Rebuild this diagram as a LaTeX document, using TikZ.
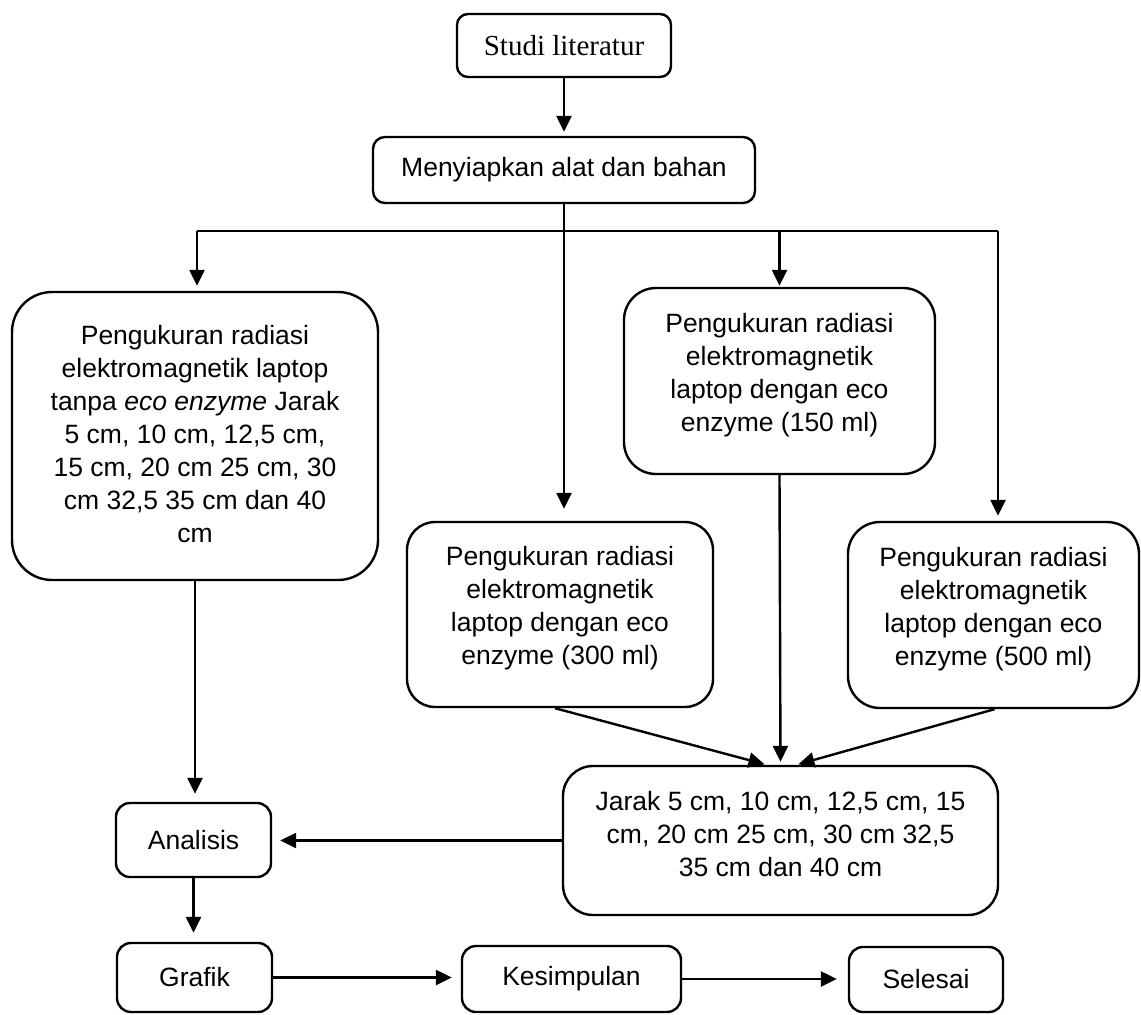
\documentclass[tikz,border=0pt]{standalone}
\usepackage{fontspec}
\setmainfont{Liberation Sans}
\newfontfamily\timesfont{Liberation Serif}
\usetikzlibrary{arrows.meta,calc}
\begin{document}
\begin{tikzpicture}[x=1pt,y=-1pt,
  box/.style={draw, line width=2.4pt, inner sep=0pt, align=center, font=\fontsize{26.5}{33}\selectfont},
  lbl/.style={align=center, inner sep=0pt, font=\fontsize{26.5}{33}\selectfont, yshift=#1},
  lbl/.default=6pt,
  conn/.style={line width=2.4pt, -{Triangle[length=16pt,width=15pt]}},
  plain/.style={line width=2.4pt}]
\useasboundingbox (0,0) rectangle (1141,1015);

\node[box, font=\timesfont\fontsize{29}{33}\selectfont, minimum width=214pt, minimum height=63pt, rounded corners=11pt] (studi) at (564,45.5) {Studi literatur};
\node[box, minimum width=382pt, minimum height=66pt, rounded corners=12pt] (prep) at (564,170) {Menyiapkan alat dan bahan};

\node[box, minimum width=366pt, minimum height=288pt, rounded corners=40pt,
  label={[lbl=2pt]center:{Pengukuran radiasi\\elektromagnetik laptop\\tanpa \textit{eco enzyme} Jarak\\5 cm, 10 cm, 12,5 cm,\\15 cm, 20 cm 25 cm, 30\\cm 32,5 35 cm dan 40\\cm}}] (tanpa) at (195,436) {};
\node[box, minimum width=311pt, minimum height=186pt, rounded corners=32pt,
  label={[lbl]center:{Pengukuran radiasi\\elektromagnetik\\laptop dengan eco\\enzyme (150 ml)}}] (m150) at (779.5,381) {};
\node[box, minimum width=306pt, minimum height=185pt, rounded corners=28pt,
  label={[lbl]center:{Pengukuran radiasi\\elektromagnetik\\laptop dengan eco\\enzyme (300 ml)}}] (m300) at (560,614.5) {};
\node[box, minimum width=291pt, minimum height=186pt, rounded corners=32pt,
  label={[lbl]center:{Pengukuran radiasi\\elektromagnetik\\laptop dengan eco\\enzyme (500 ml)}}] (m500) at (993.5,615) {};
\node[box, minimum width=435pt, minimum height=149pt, rounded corners=30pt,
  label={[lbl]center:{Jarak 5 cm, 10 cm, 12,5 cm, 15\\cm, 20 cm 25 cm, 30 cm 32,5\\35 cm dan 40 cm}}] (jarak) at (780.5,840.5) {};
\node[box, minimum width=155pt, minimum height=74pt, rounded corners=14pt] (analisis) at (193.5,840) {Analisis};
\node[box, minimum width=155pt, minimum height=69pt, rounded corners=14pt] (grafik) at (194.5,977.5) {Grafik};
\node[box, minimum width=219pt, minimum height=66pt, rounded corners=14pt] (kesimpulan) at (571.5,979) {Kesimpulan};
\node[box, minimum width=154pt, minimum height=65pt, rounded corners=14pt] (selesai) at (926,979.5) {Selesai};

\coordinate (hl) at (197,231);
\coordinate (hr) at (998,231);

\draw[conn, shorten >=4pt] (studi.south) -- (prep.north);
\draw[plain] (hl) -- (hr);
\draw[conn, shorten >=12pt] (prep.south) -- (prep.south |- m300.north);
\draw[conn, shorten >=5pt] (hl) -- (hl |- tanpa.north);
\draw[conn, shorten >=1pt] (m150.north |- hl) -- (m150.north);
\draw[conn, shorten >=5pt] (hr) -- (hr |- m500.north);

\draw[conn, shorten >=8pt] (tanpa.south) -- (tanpa.south |- analisis.north);
\draw[conn, shorten >=9pt] (analisis.south) -- (analisis.south |- grafik.north);
\draw[conn, shorten >=8pt] (jarak.west) -- (jarak.west -| analisis.east);

\draw[conn, shorten >=2pt] ($(m300.south)+(-5,0)$) -- ($(jarak.north)+(-14,0)$);
\draw[conn, shorten >=3pt] (m150.south) -- (jarak.north);
\draw[conn, shorten >=2pt] ($(m500.south)+(1,0)$) -- ($(jarak.north)+(16,0)$);

\draw[conn, shorten >=9pt] (grafik.east) -- (grafik.east -| kesimpulan.west);
\draw[conn, shorten >=11pt] (kesimpulan.east) -- (kesimpulan.east -| selesai.west);
\end{tikzpicture}
\end{document}
